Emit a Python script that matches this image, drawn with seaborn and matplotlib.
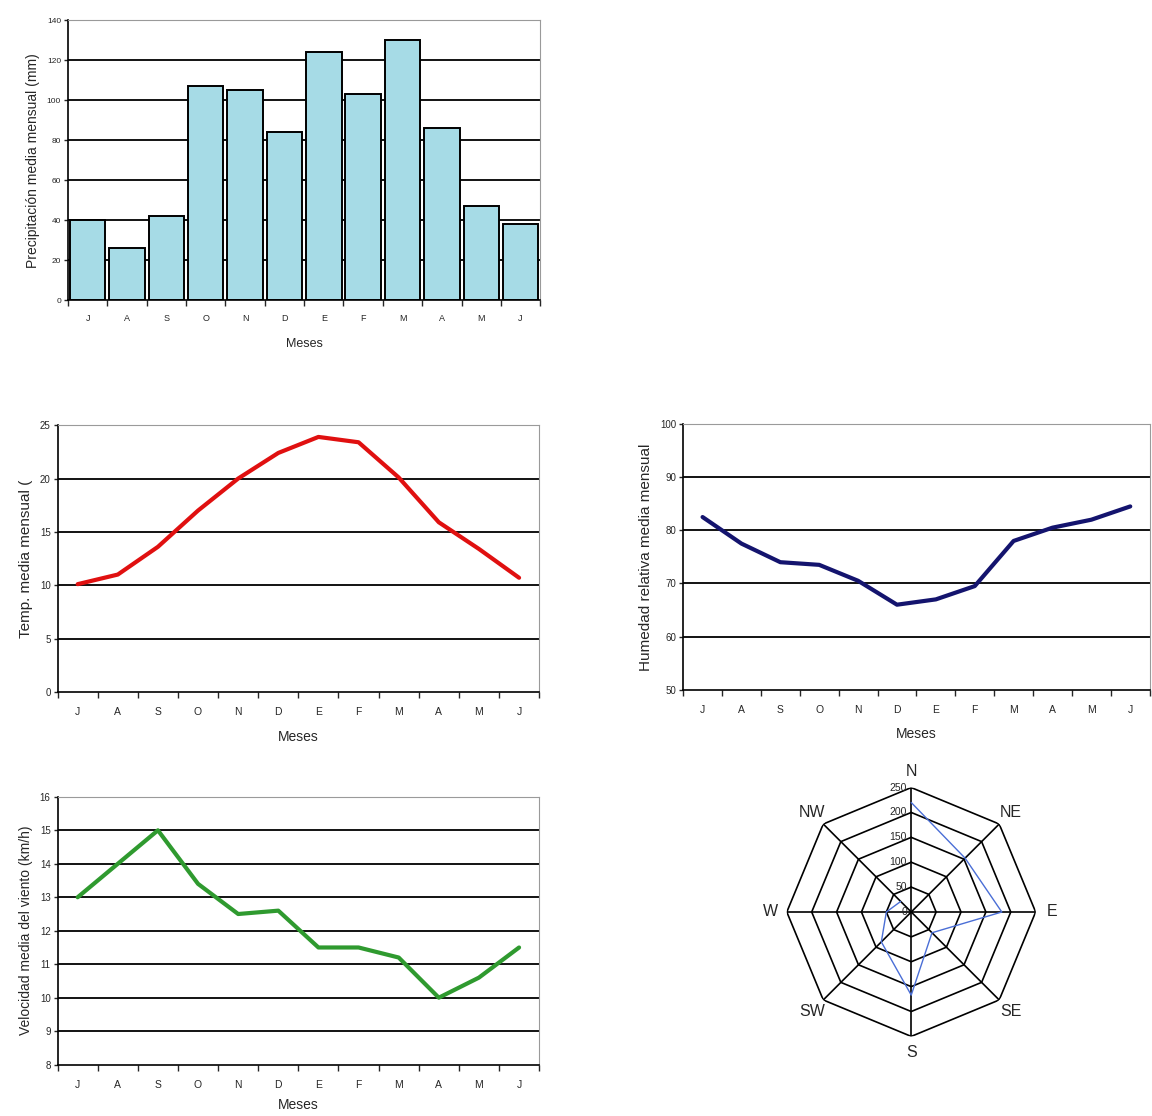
import numpy as np
import pandas as pd
import matplotlib
matplotlib.use('Agg')
import matplotlib.pyplot as plt
import seaborn as sns

# Datos climáticos mensuales (julio a junio)
meses = ['J', 'A', 'S', 'O', 'N', 'D', 'E', 'F', 'M', 'A', 'M', 'J']
precipitacion = [40, 26, 42, 107, 105, 84, 124, 103, 130, 86, 47, 38]
temperatura = [10.1, 11.0, 13.6, 17.0, 20.0, 22.4, 23.9, 23.4, 20.1, 15.9, 13.4, 10.7]
humedad = [82.5, 77.5, 74.0, 73.5, 70.5, 66.0, 67.0, 69.5, 78.0, 80.5, 82.0, 84.5]
viento = [13.0, 14.0, 15.0, 13.4, 12.5, 12.6, 11.5, 11.5, 11.2, 10.0, 10.6, 11.5]

# Rosa de los vientos
direcciones = ['N', 'NE', 'E', 'SE', 'S', 'SW', 'W', 'NW']
frecuencia = [220, 153, 182, 59, 167, 85, 50, 30]
anillos = [50, 100, 150, 200, 250]

sns.set_theme(style='white')
plt.rcParams['font.family'] = ['Liberation Sans', 'DejaVu Sans']

df = pd.DataFrame({'pos': np.arange(12), 'mm': precipitacion, 'temp': temperatura,
                   'hum': humedad, 'vel': viento})

fig = plt.figure(figsize=(11.52, 11.16), dpi=100)


def estilo(ax, ymin, ymax, paso, ylabel, ylsize=11, ticksize=7.5, xlsize=10, xpad=11, lpad=9):
    ax.set_xlim(-0.5, 11.5)
    ax.set_ylim(ymin, ymax)
    yt = np.arange(ymin, ymax + paso / 2, paso)
    ax.set_yticks(yt)
    ax.set_yticklabels([f'{v:g}' for v in yt])
    for v in yt[1:-1]:
        ax.axhline(v, color='black', lw=1.3, zorder=0.5)
    ax.set_xticks(np.arange(12))
    ax.set_xticklabels(meses)
    ax.set_xticks(np.arange(-0.5, 12, 1), minor=True)
    ax.tick_params(axis='x', which='major', length=0, pad=xpad, labelsize=ticksize)
    ax.tick_params(axis='x', which='minor', length=4, width=1, direction='out', bottom=True)
    ax.tick_params(axis='y', length=3, width=1, direction='out', left=True, labelsize=ticksize - 0.5, pad=2)
    for s in ['top', 'right']:
        ax.spines[s].set_color('#9a9a9a')
        ax.spines[s].set_linewidth(0.8)
    for s in ['left', 'bottom']:
        ax.spines[s].set_color('black')
        ax.spines[s].set_linewidth(1.2)
    ax.set_ylabel(ylabel, fontsize=ylsize, labelpad=5)
    ax.set_xlabel('Meses', fontsize=xlsize, labelpad=lpad)


# Precipitación
ax1 = fig.add_axes([0.059, 0.731, 0.410, 0.251])
sns.barplot(data=df, x='pos', y='mm', native_scale=True, color='#a6dbe6', saturation=1,
            edgecolor='black', linewidth=1.4, width=0.9, ax=ax1)
estilo(ax1, 0, 140, 20, 'Precipitación media mensual (mm)', ylsize=10, ticksize=6.5,
       xlsize=9, xpad=10, lpad=11)

# Temperatura
ax2 = fig.add_axes([0.050, 0.380, 0.418, 0.239])
sns.lineplot(data=df, x='pos', y='temp', color='#e01010', lw=3, ax=ax2)
estilo(ax2, 0, 25, 5, 'Temp. media mensual (')

# Humedad
ax3 = fig.add_axes([0.593, 0.382, 0.405, 0.238])
sns.lineplot(data=df, x='pos', y='hum', color='#14146e', lw=3, ax=ax3)
estilo(ax3, 50, 100, 10, 'Humedad relativa media mensual')

# Viento
ax4 = fig.add_axes([0.050, 0.046, 0.418, 0.240])
sns.lineplot(data=df, x='pos', y='vel', color='#2f9a2f', lw=3, ax=ax4)
estilo(ax4, 8, 16, 1, 'Velocidad media del viento (km/h)', ylsize=10, lpad=6)

# Rosa de los vientos
ax5 = fig.add_axes([0.683, 0.0713, 0.216, 0.223], projection='polar')
ax5.set_theta_zero_location('N')
ax5.set_theta_direction(-1)
ang = np.deg2rad(np.arange(len(direcciones)) * 45.0)
ang_c = np.append(ang, ang[0])
for r in anillos:
    ax5.plot(ang_c, [r] * len(ang_c), color='black', lw=1.2, zorder=1)
for t in ang:
    ax5.plot([t, t], [0, anillos[-1]], color='black', lw=1.2, zorder=1)
sns.lineplot(x=ang_c, y=np.append(frecuencia, frecuencia[0]), sort=False,
             color='#4a6ed6', lw=1.0, ax=ax5, zorder=3)
ax5.set_ylim(0, 250)
ax5.grid(False)
ax5.spines['polar'].set_visible(False)
ax5.set_xticks([])
ax5.set_yticks([])
ax5.set_xlabel('')
ax5.set_ylabel('')
for t, d in zip(ang, direcciones):
    ax5.text(t, 282, d, ha='center', va='center', fontsize=11.5)
for r in [0] + anillos:
    ax5.annotate(str(r), xy=(0, r), xytext=(-3, 0), textcoords='offset points',
                 ha='right', va='center', fontsize=7.5)

fig.savefig('out.png', dpi=100)
